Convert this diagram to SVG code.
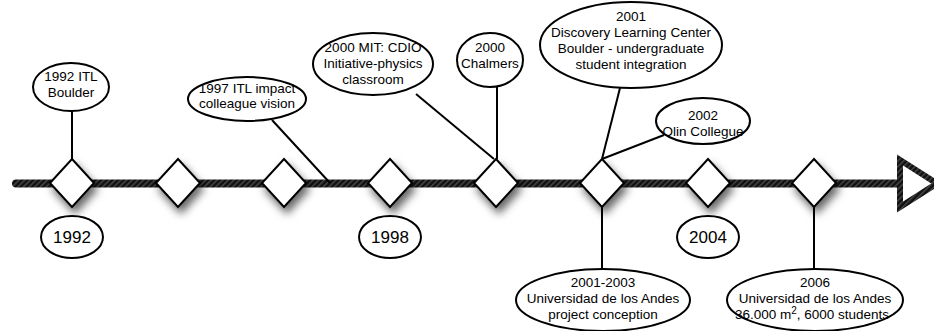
<svg xmlns="http://www.w3.org/2000/svg" width="934" height="331" viewBox="0 0 934 331">
<defs>
  <pattern id="hatch" width="4" height="4" patternUnits="userSpaceOnUse" patternTransform="rotate(45)">
    <rect width="4" height="4" fill="#111"/>
    <rect width="1.4" height="4" fill="#4a4a4a"/>
  </pattern>
  <filter id="sh" x="-50%" y="-50%" width="200%" height="200%">
    <feDropShadow dx="3" dy="6" stdDeviation="4" flood-color="#000" flood-opacity="0.6"/>
  </filter>
</defs>
<style>
  .bub { fill: #fff; stroke: #000; stroke-width: 2; }
  .dia { fill: #fff; stroke: #000; stroke-width: 2; filter: url(#sh); }
  .con { stroke: #000; stroke-width: 2; fill: none; }
  text { font-family: "Liberation Sans", Arial, sans-serif; font-size: 13.5px; fill: #000; text-anchor: middle; }
  .yr { font-size: 17px; }
</style>

<g id="timeline">
  <line x1="16" y1="183.5" x2="900" y2="183.5" stroke="url(#hatch)" stroke-width="8" stroke-linecap="round"/>
  <polygon points="900,160 900,207 937,183.5" fill="#fff" stroke="url(#hatch)" stroke-width="6"/>
</g>

<g id="connectors">
  <line class="con" x1="72" y1="111" x2="72" y2="159"/>
  <line class="con" x1="272" y1="120" x2="330" y2="183"/>
  <line class="con" x1="416" y1="94" x2="494" y2="159"/>
  <line class="con" x1="497" y1="87" x2="497" y2="159"/>
  <line class="con" x1="620" y1="88" x2="602" y2="159"/>
  <line class="con" x1="664" y1="135" x2="602" y2="159"/>
  <line class="con" x1="602" y1="207" x2="602" y2="270"/>
  <line class="con" x1="814" y1="207" x2="814" y2="270"/>
</g>

<g id="d1992"><polygon class="dia" points="72,159 94,183 72,207 50,183"/></g>
<g id="d1994"><polygon class="dia" points="178,159 200,183 178,207 156,183"/></g>
<g id="d1996"><polygon class="dia" points="284,159 306,183 284,207 262,183"/></g>
<g id="d1998"><polygon class="dia" points="390,159 412,183 390,207 368,183"/></g>
<g id="d2000"><polygon class="dia" points="496,159 518,183 496,207 474,183"/></g>
<g id="d2002"><polygon class="dia" points="602,159 624,183 602,207 580,183"/></g>
<g id="d2004"><polygon class="dia" points="708,159 730,183 708,207 686,183"/></g>
<g id="d2006"><polygon class="dia" points="814,159 836,183 814,207 792,183"/></g>

<g id="y1992"><ellipse class="bub" cx="72" cy="237" rx="31" ry="21"/><text class="yr" x="72" y="243">1992</text></g>
<g id="y1998"><ellipse class="bub" cx="390" cy="237" rx="31" ry="21"/><text class="yr" x="390" y="243">1998</text></g>
<g id="y2004"><ellipse class="bub" cx="708" cy="237" rx="31" ry="21"/><text class="yr" x="708" y="243">2004</text></g>

<g id="e1992">
  <ellipse class="bub" cx="71" cy="87" rx="38" ry="24"/>
  <text x="71" y="81">1992 ITL</text>
  <text x="71" y="97">Boulder</text>
</g>
<g id="e1997">
  <ellipse class="bub" cx="247" cy="99" rx="59" ry="22"/>
  <text x="247" y="93">1997 ITL impact</text>
  <text x="247" y="108">colleague vision</text>
</g>
<g id="e2000mit">
  <ellipse class="bub" cx="373" cy="64" rx="60" ry="31"/>
  <text x="373" y="52">2000 MIT: CDIO</text>
  <text x="373" y="68">Initiative-physics</text>
  <text x="373" y="84">classroom</text>
</g>
<g id="e2000ch">
  <ellipse class="bub" cx="490" cy="60" rx="33" ry="27"/>
  <text x="490" y="52">2000</text>
  <text x="490" y="68">Chalmers</text>
</g>
<g id="e2001">
  <ellipse class="bub" cx="631" cy="45" rx="91" ry="43"/>
  <text x="631" y="21">2001</text>
  <text x="631" y="37">Discovery Learning Center</text>
  <text x="631" y="53">Boulder - undergraduate</text>
  <text x="631" y="69">student integration</text>
</g>
<g id="e2002">
  <ellipse class="bub" cx="703" cy="121" rx="47" ry="23"/>
  <text x="703" y="120">2002</text>
  <text x="703" y="136">Olin Collegue</text>
</g>
<g id="e2001b">
  <ellipse class="bub" cx="603" cy="300" rx="87" ry="31"/>
  <text x="603" y="287">2001-2003</text>
  <text x="603" y="303">Universidad de los Andes</text>
  <text x="603" y="319">project conception</text>
</g>
<g id="e2006">
  <ellipse class="bub" cx="815" cy="300" rx="88" ry="31"/>
  <text x="815" y="287">2006</text>
  <text x="815" y="303">Universidad de los Andes</text>
  <text x="812" y="319">36.000 m<tspan font-size="10" dy="-5">2</tspan><tspan dy="5">, 6000 students</tspan></text>
</g>
</svg>
